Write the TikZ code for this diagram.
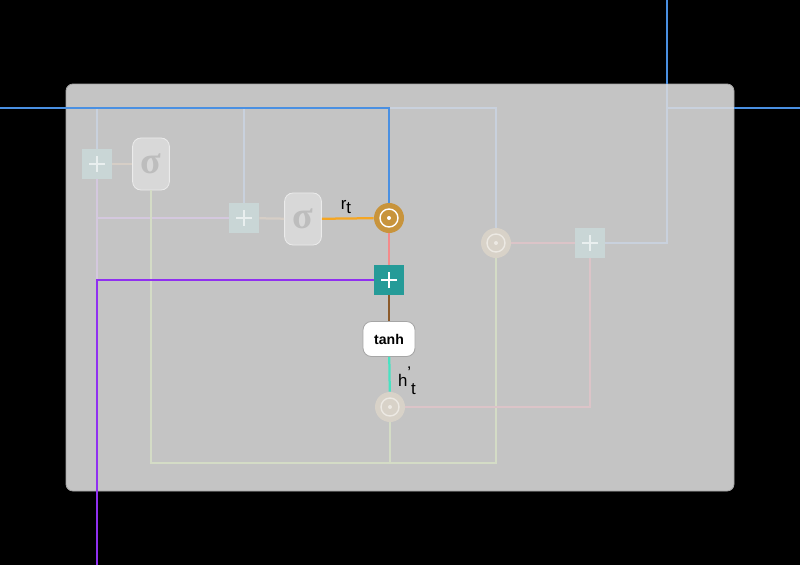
\documentclass[tikz,border=0pt]{standalone}
\usepackage{fontspec}
\setmainfont{Liberation Sans}
\newfontfamily\sigfont{Liberation Serif}
\usepackage{tikz}
\usetikzlibrary{positioning,calc}
\definecolor{cellgray}{HTML}{C4C4C4}
\definecolor{celledge}{HTML}{A6A6A6}
\definecolor{hblue}{HTML}{4A90E2}
\definecolor{xpurple}{HTML}{9030F0}
\definecolor{rorange}{HTML}{F5A623}
\definecolor{mulgold}{HTML}{C8943C}
\definecolor{rpink}{HTML}{F48A8A}
\definecolor{addteal}{HTML}{259B98}
\definecolor{hbrown}{HTML}{8B5A2B}
\definecolor{hturq}{HTML}{48E2C2}
\definecolor{fblue}{HTML}{C9D1DD}
\definecolor{flav}{HTML}{D4C8DE}
\definecolor{fbeige}{HTML}{D6CEC6}
\definecolor{fgreen}{HTML}{D4DCC6}
\definecolor{fpink}{HTML}{DCC4C8}
\definecolor{faddfill}{HTML}{C9D6D6}
\definecolor{fsigfill}{HTML}{D8D8D8}
\definecolor{fsigtext}{HTML}{BDBDBD}
\definecolor{fmulfill}{HTML}{D8D2C8}

\begin{document}
\begin{tikzpicture}[x=0.025cm, y=-0.025cm,
      wire/.style={line width=1.6pt},
      addbox/.style={minimum size=0.75cm, inner sep=0pt,
        path picture={\draw[line width=1.4pt, #1]
          ($(path picture bounding box.center)+(-0.2cm,0)$) -- ++(0.4cm,0)
          ($(path picture bounding box.center)+(0,-0.2cm)$) -- ++(0,0.4cm);}},
      addmain/.style={addbox=white, fill=addteal},
      addfaint/.style={addbox={white!60!faddfill}, fill=faddfill},
      mulbox/.style={circle, minimum size=0.75cm, inner sep=0pt,
        path picture={\draw[line width=1pt, #1] (path picture bounding box.center) circle (0.225cm);
          \fill[#1] (path picture bounding box.center) circle (0.05cm);}},
      mulmain/.style={mulbox=white, fill=mulgold},
      mulfaint/.style={mulbox={white!50!fmulfill}, fill=fmulfill},
      sigbox/.style={draw=white!50!fsigfill, fill=fsigfill, rounded corners=6pt, line width=0.6pt,
        minimum width=0.92cm, minimum height=1.3cm, inner sep=0pt,
        text=fsigtext, font=\sigfont\bfseries\fontsize{27}{27}\selectfont},
      tanhbox/.style={draw=gray!70, fill=white, rounded corners=6pt, line width=0.6pt,
        minimum width=1.3cm, minimum height=0.875cm, inner sep=0pt,
        font=\fontsize{10}{10}\selectfont\bfseries},
      lbl/.style={font=\fontsize{12}{12}\selectfont, text=black, inner sep=0pt}]
    \fill[black] (0,0) rectangle (800,565);
    \useasboundingbox (0,0) rectangle (800,565);
    \draw[fill=cellgray, draw=celledge, line width=0.6pt, rounded corners=5pt] (66,84) rectangle (734,491);

    \node[addfaint] (addz) at (97,164) {};
    \node[sigbox] (sigz) at (151,164) {σ};
    \node[addfaint] (addr) at (244,218) {};
    \node[sigbox] (sigr) at (303,219) {σ};
    \node[mulmain] (mulr) at (389,218) {};
    \node[addmain] (addh) at (389,280) {};
    \node[tanhbox] (tanh) at (389,339) {tanh};
    \node[mulfaint] (mulh) at (390,407) {};
    \node[mulfaint] (mulz) at (496,243) {};
    \node[addfaint] (addout) at (590,243) {};

    \coordinate (hin) at (0,108);
    \coordinate (xin) at (97,565);
    \coordinate (xsplit) at (97,281);
    \coordinate (bot) at (151,463);
    \coordinate (outc) at (667,84);
    \coordinate (hup) at (667,0);
    \coordinate (outr) at (734,108);
    \coordinate (hright) at (800,108);

    \draw[wire, fblue] (addz.north |- hin) -- (addz);
    \draw[wire, fblue] (addr.north |- hin) -- (addr);
    \draw[wire, fblue] (mulr.north |- hin) -| (mulz);
    \draw[wire, flav] (xsplit) -- (addz);
    \draw[wire, flav] (xsplit |- addr) -- (addr);
    \draw[wire, fbeige] (addz) -- (sigz);
    \draw[wire, fbeige] (addr) -- (sigr);
    \draw[wire, fgreen] (sigz) -- (bot) -| (mulz);
    \draw[wire, fgreen] (mulh) -- (mulh |- bot);
    \draw[wire, fpink] (mulh) -| (addout);
    \draw[wire, fpink] (mulz) -- (addout);
    \draw[wire, fblue] (addout) -| (outc);
    \draw[wire, fblue] (outc |- outr) -- (outr);

    \draw[wire, hblue] (hin) -| (mulr);
    \draw[wire, xpurple] (xin) |- (addh);
    \draw[wire, rorange] (sigr) -- (mulr);
    \node[lbl] (rlab) at (346,207) {r\raisebox{-0.55ex}{t}};
    \draw[wire, rpink] (mulr) -- (addh);
    \draw[wire, hbrown] (addh) -- (tanh);
    \draw[wire, hturq] (tanh) -- (mulh);
    \node[lbl] (hlab) at (407,381) {h\raisebox{0.9ex}{'}\raisebox{-0.9ex}{t}};
    \draw[wire, hblue] (outc) -- (hup);
    \draw[wire, hblue] (outr) -- (hright);
  \end{tikzpicture}
\end{document}
